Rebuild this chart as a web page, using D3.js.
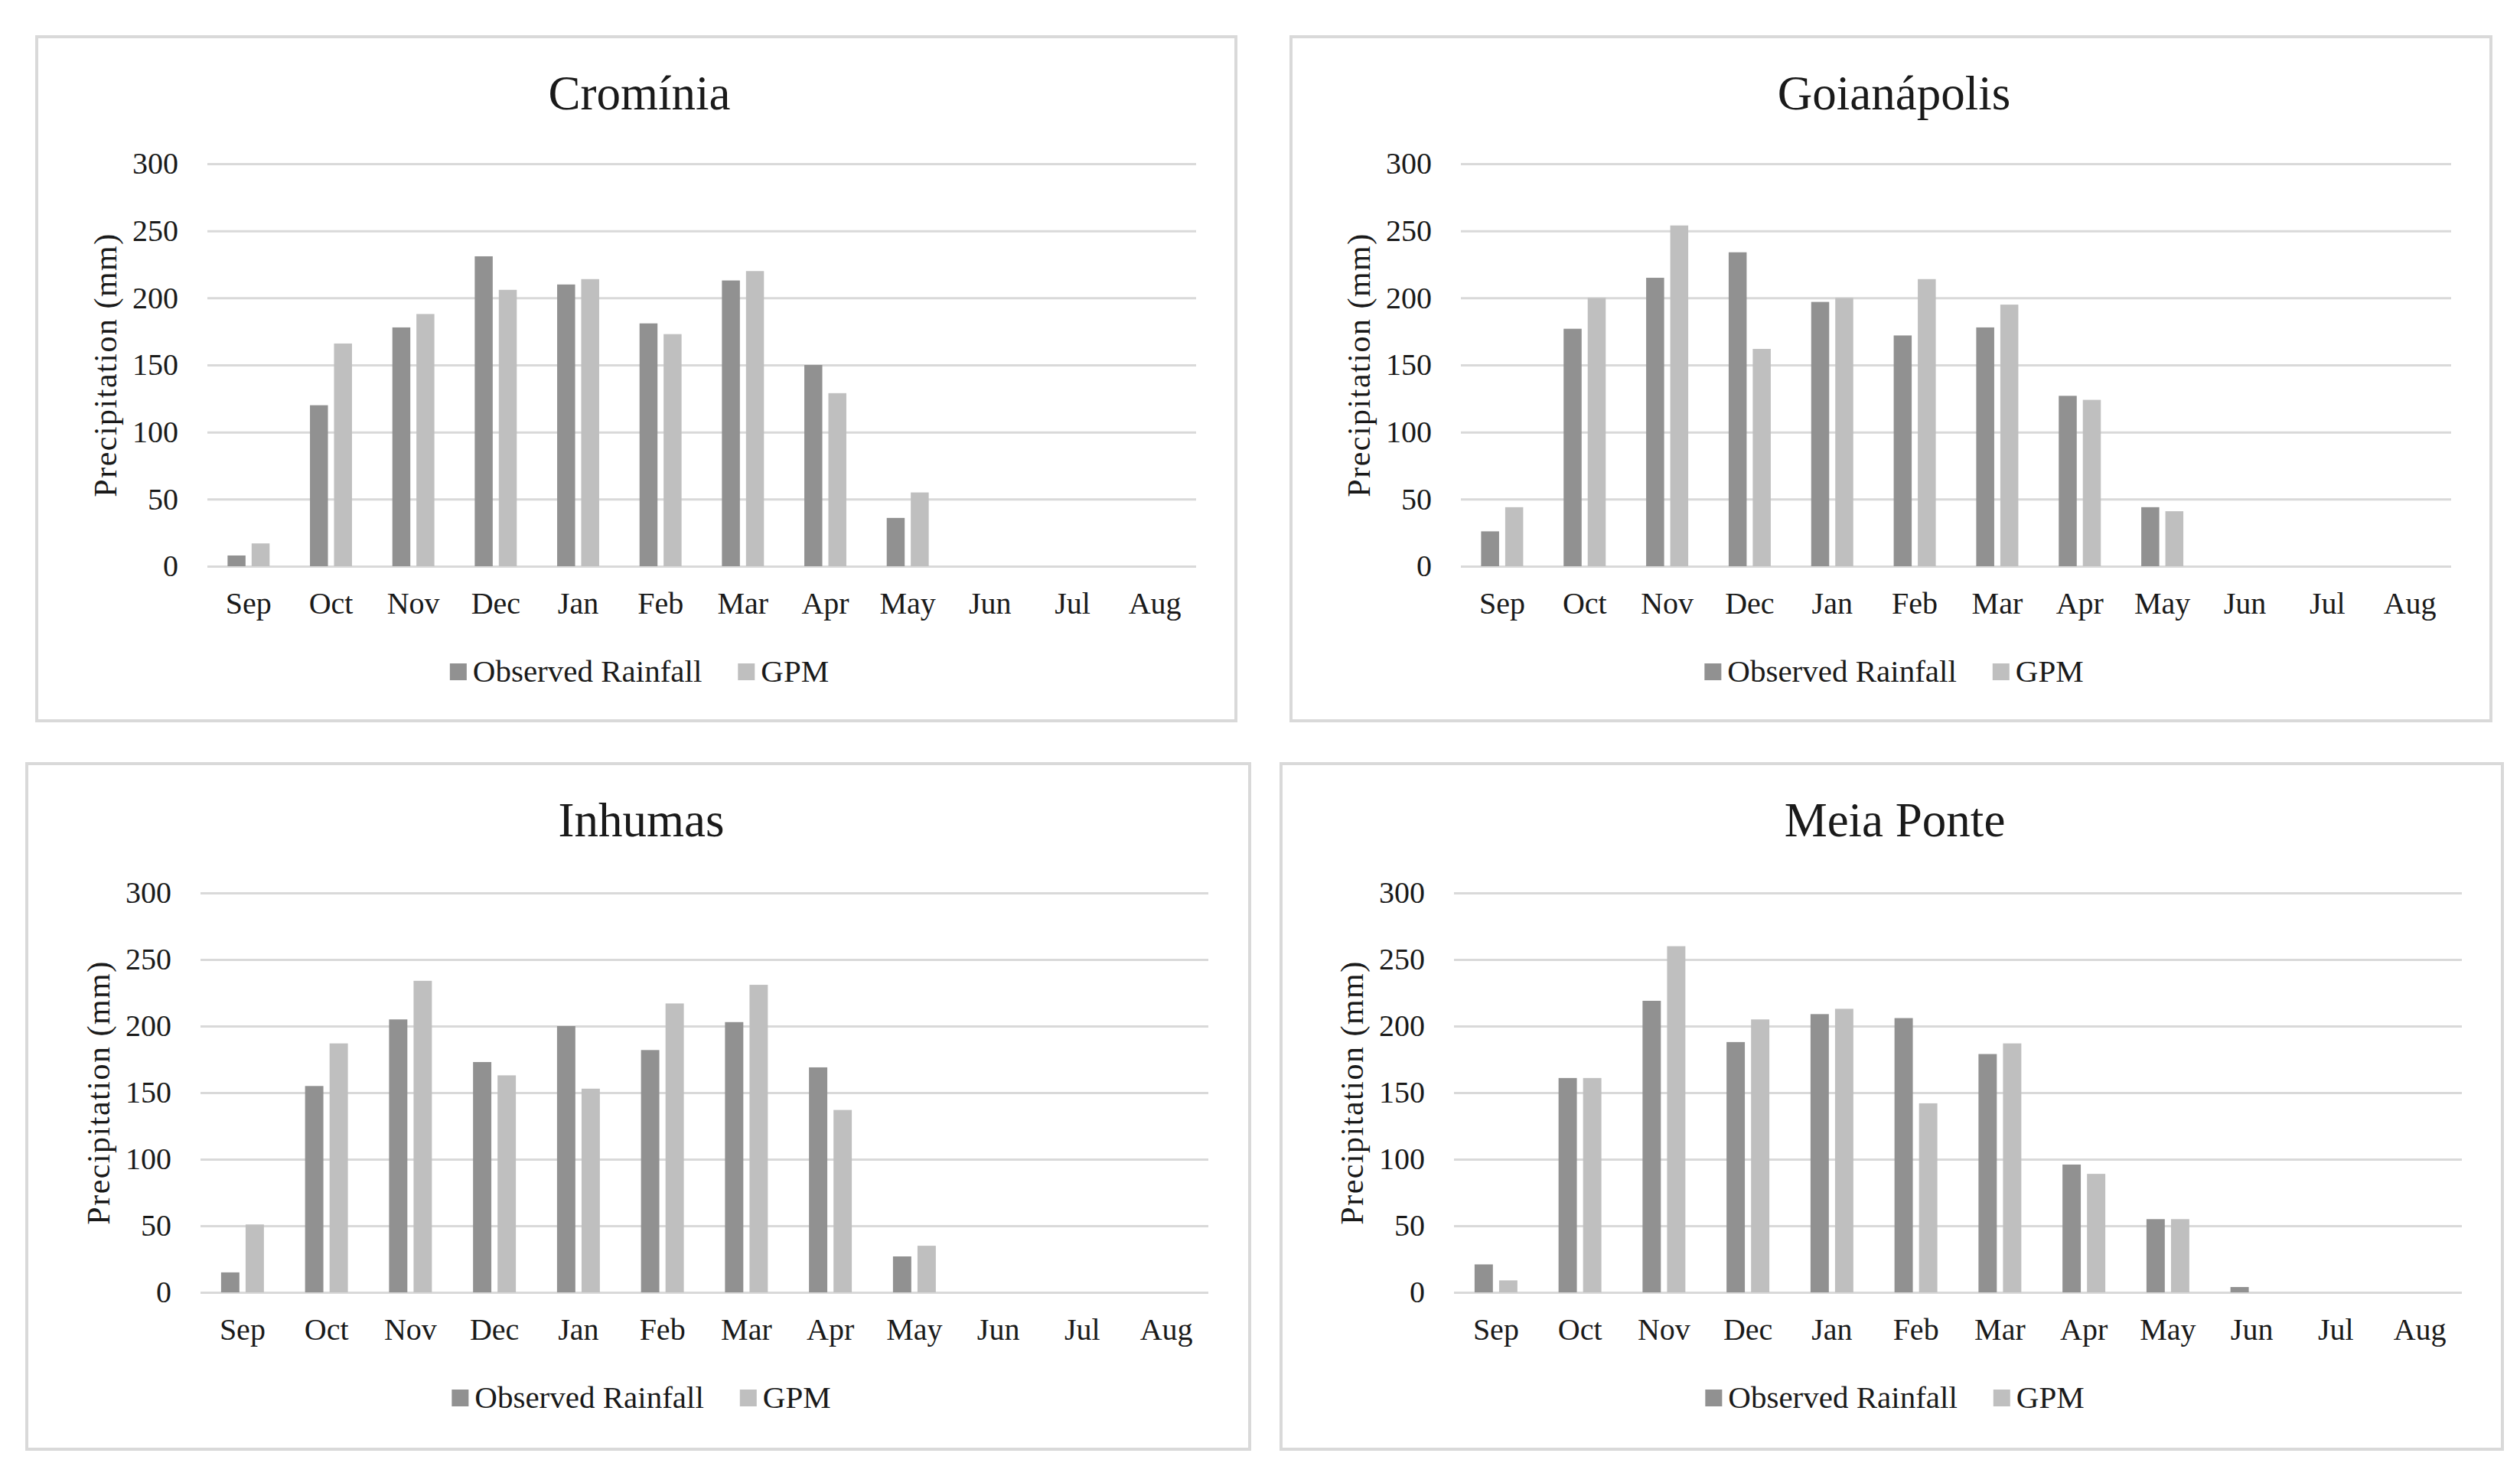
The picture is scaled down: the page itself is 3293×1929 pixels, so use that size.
<!DOCTYPE html>
<html>
<head>
<meta charset="utf-8">
<script src="https://cdn.jsdelivr.net/npm/d3@7"></script>
<style>
  html, body { margin: 0; padding: 0; background: #fff; }
  svg { display: block; }
  text { font-family: "Liberation Serif", "Times New Roman", serif; fill: #1a1a1a; }
</style>
</head>
<body>
<svg id="chart" width="3293" height="1929"></svg>
<script>
// Data (mm)
const months = ['Sep', 'Oct', 'Nov', 'Dec', 'Jan', 'Feb', 'Mar', 'Apr', 'May', 'Jun', 'Jul', 'Aug'];
const yTicks = [0, 50, 100, 150, 200, 250, 300];
const seriesNames = ['Observed Rainfall', 'GPM'];
const stations = ['Cromínia', 'Goianápolis', 'Inhumas', 'Meia Ponte'];

const crominiaObserved = [8, 120, 178, 231, 210, 181, 213, 150, 36, 0, 0, 0];
const crominiaGpm = [17, 166, 188, 206, 214, 173, 220, 129, 55, 0, 0, 0];
const goianapolisObserved = [26, 177, 215, 234, 197, 172, 178, 127, 44, 0, 0, 0];
const goianapolisGpm = [44, 200, 254, 162, 200, 214, 195, 124, 41, 0, 0, 0];
const inhumasObserved = [15, 155, 205, 173, 200, 182, 203, 169, 27, 0, 0, 0];
const inhumasGpm = [51, 187, 234, 163, 153, 217, 231, 137, 35, 0, 0, 0];
const meiaPonteObserved = [21, 161, 219, 188, 209, 206, 179, 96, 55, 4, 0, 0];
const meiaPonteGpm = [9, 161, 260, 205, 213, 142, 187, 89, 55, 0, 0, 0];

const stationSeries = [
    [crominiaObserved, crominiaGpm],
    [goianapolisObserved, goianapolisGpm],
    [inhumasObserved, inhumasGpm],
    [meiaPonteObserved, meiaPonteGpm]
];

// Layout of each panel (pixels)
const panels = [
    { box: [48, 48, 1615, 942], plot: [271, 1563], yTop: 214, yBottom: 740 },
    { box: [1687, 48, 3255, 942], plot: [1909, 3203], yTop: 214, yBottom: 740 },
    { box: [35, 998, 1633, 1894], plot: [262, 1579], yTop: 1167, yBottom: 1689 },
    { box: [1674, 998, 3270, 1894], plot: [1900, 3217], yTop: 1167, yBottom: 1689 }
];

const colors = ['#919191', '#bfbfbf'];
const gridColor = '#d9d9d9';
const fontSize = 40;

const svg = d3.select('#chart');

panels.forEach((p, i) => {
    const [bx0, by0, bx1, by1] = p.box;
    const cx = (bx0 + bx1) / 2 + 4;
    const g = svg.append('g');

    // Chart border
    g.append('rect')
        .attr('x', bx0).attr('y', by0)
        .attr('width', bx1 - bx0).attr('height', by1 - by0)
        .attr('fill', '#fff')
        .attr('stroke', gridColor)
        .attr('stroke-width', 4);

    // Title
    g.append('text')
        .attr('x', cx).attr('y', by0 + 95)
        .attr('text-anchor', 'middle')
        .style('font-size', '63px')
        .text(stations[i]);

    // Scales
    const x = d3.scaleBand()
        .domain(months)
        .range(p.plot)
        .padding(0);
    const B = x.bandwidth();
    const xSub = d3.scaleBand()
        .domain(seriesNames)
        .range([0.245 * B, 0.755 * B])
        .paddingInner(0.253)
        .paddingOuter(0);
    const y = d3.scaleLinear()
        .domain([0, 300])
        .range([p.yBottom, p.yTop]);

    // Y axis with gridlines
    const yAxis = g.append('g')
        .attr('transform', `translate(${p.plot[0]},0)`)
        .call(d3.axisLeft(y)
            .tickValues(yTicks)
            .tickSize(-(p.plot[1] - p.plot[0]))
            .tickPadding(38));
    yAxis.select('.domain').remove();
    yAxis.selectAll('line')
        .attr('stroke', gridColor)
        .attr('stroke-width', 3);
    yAxis.selectAll('text')
        .style('font-size', fontSize + 'px')
        .style('font-family', '"Liberation Serif", serif')
        .attr('fill', '#1a1a1a');

    // X axis labels
    const xAxis = g.append('g')
        .attr('transform', `translate(0,${p.yBottom})`)
        .call(d3.axisBottom(x).tickSize(0));
    xAxis.select('.domain').remove();
    xAxis.selectAll('text')
        .attr('y', 62)
        .attr('dy', 0)
        .style('font-size', fontSize + 'px')
        .style('font-family', '"Liberation Serif", serif')
        .attr('fill', '#1a1a1a');

    // Y axis title
    g.append('text')
        .attr('transform', `translate(${p.plot[0] - 134},${(p.yTop + p.yBottom) / 2}) rotate(-90)`)
        .attr('text-anchor', 'middle')
        .attr('dy', '0.35em')
        .style('font-size', '42px')
        .style('letter-spacing', '1.5px')
        .text('Precipitation (mm)');

    // Bars
    const series = stationSeries[i];
    seriesNames.forEach((name, s) => {
        g.append('g')
            .selectAll('rect')
            .data(months.map((m, k) => ({ month: m, value: series[s][k] })))
            .enter()
            .append('rect')
                .attr('x', d => x(d.month) + xSub(name))
                .attr('y', d => y(d.value))
                .attr('width', xSub.bandwidth())
                .attr('height', d => y(0) - y(d.value))
                .attr('fill', colors[s]);
    });

    // Legend
    const legend = g.append('g');
    const legendY = p.yBottom + 151;
    const items = legend.selectAll('g')
        .data(seriesNames)
        .enter()
        .append('g');
    items.append('rect')
        .attr('width', 22).attr('height', 22)
        .attr('y', legendY - 24)
        .attr('fill', (d, s) => colors[s]);
    items.append('text')
        .attr('x', 30)
        .attr('y', legendY)
        .style('font-size', '41px')
        .text(d => d);
    // place items side by side, centred in the panel
    let offset = 0;
    const widths = [];
    items.each(function () {
        widths.push(this.getBBox().width);
    });
    const gap = 47;
    const total = d3.sum(widths) + gap * (widths.length - 1);
    items.attr('transform', (d, s) => {
        const tx = cx - total / 2 + offset;
        offset += widths[s] + gap;
        return `translate(${tx},0)`;
    });
});
</script>
</body>
</html>
